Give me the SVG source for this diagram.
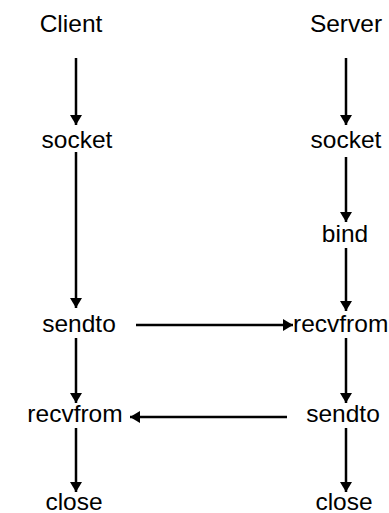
<svg xmlns="http://www.w3.org/2000/svg" width="389" height="513" viewBox="0 0 389 513">
  <style>
    text { font-family: "Liberation Sans", Arial, sans-serif; font-size: 24.5px; fill: #000; text-anchor: middle; }
    .edge { stroke: #000; stroke-width: 2.5; fill: none; marker-end: url(#arrow); }
  </style>
  <defs>
    <marker id="arrow" markerUnits="userSpaceOnUse" markerWidth="12" markerHeight="12" refX="10" refY="6" orient="auto">
      <path d="M0,0 L10,6 L0,12 Z" fill="#000"/>
    </marker>
  </defs>
  <rect width="389" height="513" fill="#fff"/>

  <!-- column headings -->
  <g id="client"><text x="71" y="32">Client</text></g>
  <g id="server"><text x="346" y="32">Server</text></g>

  <!-- client calls -->
  <g id="c-socket"><text x="77" y="148">socket</text></g>
  <g id="c-sendto"><text x="79" y="332">sendto</text></g>
  <g id="c-recvfrom"><text x="75" y="422">recvfrom</text></g>
  <g id="c-close"><text x="74" y="510">close</text></g>

  <!-- server calls -->
  <g id="s-socket"><text x="346" y="148">socket</text></g>
  <g id="s-bind"><text x="345" y="242">bind</text></g>
  <g id="s-recvfrom"><text x="293" y="332" style="text-anchor:start">recvfrom</text></g>
  <g id="s-sendto"><text x="343" y="422">sendto</text></g>
  <g id="s-close"><text x="344" y="510">close</text></g>

  <!-- connectors -->
  <g id="edges">
    <line class="edge" x1="76" y1="58" x2="76" y2="125"/>
    <line class="edge" x1="76" y1="152" x2="76" y2="308"/>
    <line class="edge" x1="76" y1="338" x2="76" y2="403"/>
    <line class="edge" x1="76" y1="428" x2="76" y2="492"/>
    <line class="edge" x1="346" y1="58" x2="346" y2="125"/>
    <line class="edge" x1="346" y1="157" x2="346" y2="222"/>
    <line class="edge" x1="346" y1="248" x2="346" y2="311"/>
    <line class="edge" x1="346" y1="338" x2="346" y2="403"/>
    <line class="edge" x1="346" y1="428" x2="346" y2="492"/>
    <line class="edge" x1="136" y1="325" x2="293" y2="325"/>
    <line class="edge" x1="287" y1="417" x2="130" y2="417"/>
  </g>
</svg>
